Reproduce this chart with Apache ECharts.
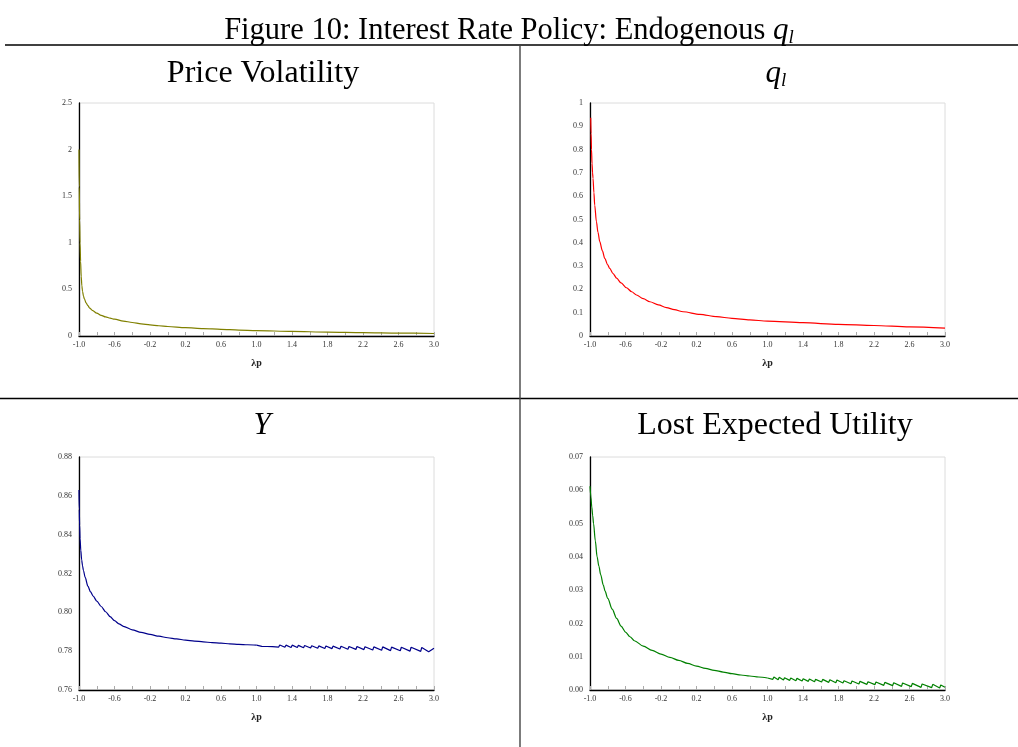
<!DOCTYPE html>
<html>
<head>
<meta charset="utf-8">
<script src="https://cdn.jsdelivr.net/npm/echarts@6/dist/echarts.min.js"></script>
<style>
html,body{margin:0;padding:0;background:#fff;}
#c{width:1018px;height:747px;}
</style>
</head>
<body>
<div id="c"></div>
<script>
// ---- data ----
const pvX = [-1.0, -0.997, -0.993, -0.988, -0.982, -0.975, -0.968, -0.96, -0.95, -0.94, -0.92, -0.9, -0.88, -0.85, -0.8, -0.75, -0.7, -0.65, -0.6, -0.5, -0.4, -0.3, -0.2, -0.1, 0.0, 0.2, 0.4, 0.6, 0.8, 1.0, 1.4, 1.8, 2.2, 2.6, 3.0];
const pvY = [2.0, 1.6, 1.25, 1.0, 0.80, 0.64, 0.54, 0.48, 0.43, 0.40, 0.355, 0.325, 0.30, 0.275, 0.245, 0.222, 0.205, 0.191, 0.18, 0.16, 0.145, 0.13, 0.12, 0.11, 0.102, 0.09, 0.08, 0.072, 0.064, 0.058, 0.049, 0.042, 0.036, 0.031, 0.027];

const qX = [-0.992, -0.988, -0.983, -0.977, -0.971, -0.966, -0.956, -0.947, -0.928, -0.91, -0.89, -0.86, -0.834, -0.80, -0.778, -0.74, -0.70, -0.65, -0.589, -0.53, -0.476, -0.40, -0.326, -0.23, -0.138, -0.05, 0.05, 0.238, 0.427, 0.60, 0.80, 1.0, 1.4, 1.8, 2.2, 2.6, 3.0];
const qY = [0.937, 0.87, 0.80, 0.74, 0.70, 0.677, 0.615, 0.562, 0.491, 0.445, 0.405, 0.365, 0.333, 0.305, 0.290, 0.268, 0.248, 0.228, 0.207, 0.19, 0.176, 0.160, 0.147, 0.134, 0.122, 0.113, 0.104, 0.093, 0.083, 0.076, 0.069, 0.064, 0.057, 0.050, 0.045, 0.039, 0.034];

const yX = [-1.0, -0.997, -0.993, -0.988, -0.98, -0.97, -0.96, -0.95, -0.93, -0.9, -0.87, -0.84, -0.8, -0.75, -0.7, -0.65, -0.6, -0.55, -0.5, -0.4, -0.3, -0.2, -0.1, 0.0, 0.1, 0.2, 0.3, 0.4, 0.5, 0.6, 0.7, 0.8, 0.9, 1.0,
  1.06, 1.072, 1.12, 1.132, 1.18, 1.192, 1.25, 1.262, 1.32, 1.332, 1.39, 1.402, 1.46, 1.472, 1.53, 1.542, 1.61, 1.622, 1.69, 1.702, 1.77, 1.782, 1.85, 1.862, 1.94, 1.952, 2.03, 2.042, 2.12, 2.132, 2.21, 2.222, 2.31, 2.322, 2.41, 2.422, 2.51, 2.522, 2.62, 2.632, 2.73, 2.742, 2.85, 2.862, 2.94, 3.0];
const yY = [0.863, 0.853, 0.845, 0.838, 0.832, 0.827, 0.824, 0.8215, 0.818, 0.8135, 0.8105, 0.8083, 0.8058, 0.8030, 0.8003, 0.7978, 0.7957, 0.7941, 0.7928, 0.7910, 0.7897, 0.7886, 0.7877, 0.7869, 0.7863, 0.7857, 0.7852, 0.7848, 0.7844, 0.7841, 0.7838, 0.7835, 0.7833, 0.7831,
  0.7825, 0.7835, 0.7824, 0.7834, 0.7823, 0.7833, 0.7821, 0.7832, 0.7820, 0.7831, 0.7819, 0.7831, 0.7819, 0.7830, 0.7818, 0.7829, 0.7816, 0.7828, 0.7815, 0.7827, 0.7814, 0.7827, 0.7813, 0.7826, 0.7811, 0.7825, 0.7810, 0.7824, 0.7809, 0.7824, 0.7808, 0.7823, 0.7806, 0.7822, 0.7805, 0.7822, 0.7803, 0.7821, 0.7802, 0.7820, 0.7800, 0.7820, 0.7799, 0.7819, 0.7797, 0.7815];

const leuX = [-1.0, -0.99, -0.98, -0.97, -0.96, -0.94, -0.92, -0.9, -0.88, -0.85, -0.83, -0.8, -0.75, -0.7, -0.65, -0.6, -0.55, -0.5, -0.4, -0.3, -0.2, -0.1, 0.0, 0.1, 0.2, 0.3, 0.4, 0.5, 0.6, 0.7, 0.8, 0.9, 1.0,
  1.06, 1.072, 1.12, 1.132, 1.18, 1.192, 1.25, 1.262, 1.32, 1.332, 1.39, 1.402, 1.46, 1.472, 1.53, 1.542, 1.61, 1.622, 1.69, 1.702, 1.77, 1.782, 1.85, 1.862, 1.94, 1.952, 2.03, 2.042, 2.12, 2.132, 2.21, 2.222, 2.31, 2.322, 2.41, 2.422, 2.51, 2.522, 2.62, 2.632, 2.73, 2.742, 2.85, 2.862, 2.94, 2.952, 3.0];
const leuY = [0.0612, 0.0580, 0.0550, 0.0525, 0.0500, 0.0448, 0.0400, 0.0372, 0.0347, 0.0315, 0.0297, 0.0275, 0.0243, 0.0215, 0.0192, 0.0174, 0.0160, 0.0148, 0.0132, 0.0119, 0.0108, 0.0098, 0.0089, 0.0080, 0.0072, 0.0065, 0.0059, 0.0054, 0.0049, 0.0045, 0.0042, 0.0039, 0.0036,
  0.0032, 0.0039, 0.0031, 0.0038, 0.0030, 0.0037, 0.0029, 0.0036, 0.0028, 0.0035, 0.0027, 0.0034, 0.0026, 0.0033, 0.0025, 0.0032, 0.0024, 0.0032, 0.0023, 0.0031, 0.0022, 0.0030, 0.0021, 0.0028, 0.0019, 0.0027, 0.0018, 0.0026, 0.0017, 0.0025, 0.0016, 0.0024, 0.0014, 0.0023, 0.0013, 0.0022, 0.0011, 0.0021, 0.0010, 0.0020, 0.0008, 0.0018, 0.0007, 0.0017, 0.0006, 0.0015, 0.0008];

const panelTitles = ['Price Volatility', '{i|q}{s|l}', '{i|Y}', 'Lost Expected Utility'];
const figTitle = 'Figure 10: Interest Rate Policy: Endogenous {i|q}{s|l}';
const xName = 'λp';

// ---- chart ----
const SERIF = '"Liberation Serif","Times New Roman",serif';
const zip = (a, b) => a.map((v, i) => [v, b[i]]);

const grids = [
  {left: 79, top: 103, width: 355, height: 233},
  {left: 590, top: 103, width: 355, height: 233},
  {left: 79, top: 457, width: 355, height: 233},
  {left: 590, top: 457, width: 355, height: 233}
].map(g => Object.assign(g, {show: true, borderColor: '#dcdcdc', borderWidth: 1, backgroundColor: 'transparent'}));

const yCfg = [
  {min: 0, max: 2.5, interval: 0.5, fmt: v => String(v)},
  {min: 0, max: 1, interval: 0.1, fmt: v => String(+v.toFixed(1))},
  {min: 0.76, max: 0.88, interval: 0.02, fmt: v => v.toFixed(2)},
  {min: 0, max: 0.07, interval: 0.01, fmt: v => v.toFixed(2)}
];

const xAxes = grids.map((g, i) => ({
  type: 'value', gridIndex: i, min: -1, max: 3, interval: 0.4,
  name: xName, nameLocation: 'middle', nameGap: 22,
  nameTextStyle: {fontFamily: SERIF, fontSize: 10, fontWeight: 'bold', color: '#222'},
  axisLine: {show: true, onZero: false, lineStyle: {color: '#000', width: 1.3}},
  axisTick: {show: true, inside: true, length: 4, lineStyle: {color: '#aaa'}},
  minorTick: {show: true, splitNumber: 2, length: 4, lineStyle: {color: '#aaa'}},
  splitLine: {show: false},
  axisLabel: {fontFamily: SERIF, fontSize: 8, color: '#333', margin: 5, formatter: v => v.toFixed(1)}
}));

const yAxes = yCfg.map((c, i) => ({
  type: 'value', gridIndex: i, min: c.min, max: c.max, interval: c.interval,
  axisLine: {show: true, onZero: false, lineStyle: {color: '#000', width: 1.3}},
  axisTick: {show: false},
  splitLine: {show: false},
  axisLabel: {fontFamily: SERIF, fontSize: 8, color: '#333', margin: 7, formatter: c.fmt}
}));

const colors = ['#808000', '#ff0000', '#00008b', '#008000'];
const datasets = [zip(pvX, pvY), zip(qX, qY), zip(yX, yY), zip(leuX, leuY)];
const series = [];
datasets.forEach((d, i) => {
  const base = {type: 'line', xAxisIndex: i, yAxisIndex: i, showSymbol: false, animation: false,
    lineStyle: {color: colors[i], width: 1.2}};
  if (i < 2) {
    series.push(Object.assign({}, base, {data: d, smooth: 0.3, smoothMonotone: 'x'}));
  } else {
    // smooth head up to x = 1.0, raw sawtooth tail after it
    const head = d.filter(p => p[0] <= 1.0);
    const tail = d.filter(p => p[0] >= 1.0);
    series.push(Object.assign({}, base, {data: head, smooth: 0.3, smoothMonotone: 'x'}));
    series.push(Object.assign({}, base, {data: tail, smooth: false}));
  }
});

const rich = {
  i: {fontFamily: SERIF, fontStyle: 'italic', fontSize: 31, lineHeight: 32, fill: '#000'},
  s: {fontFamily: SERIF, fontStyle: 'italic', fontSize: 19, lineHeight: 15, verticalAlign: 'bottom', fill: '#000'}
};
const titleText = (txt, x, y, size) => ({
  type: 'text', x: x, y: y, silent: true,
  style: {text: txt, fontFamily: SERIF, fontSize: size, fill: '#000', align: 'center', verticalAlign: 'middle', rich: rich}
});
const rule = (x1, y1, x2, y2, c) => ({type: 'line', silent: true, shape: {x1, y1, x2, y2}, style: {stroke: c, lineWidth: 1.4}});

const graphic = [
  titleText(figTitle, 509, 31, 30.5),
  titleText(panelTitles[0], 263, 74, 32),
  titleText(panelTitles[1], 776, 74, 32),
  titleText(panelTitles[2], 262, 426, 32),
  titleText(panelTitles[3], 775, 426, 32),
  rule(5, 45, 1018, 45, '#000'),
  rule(0, 398.5, 1018, 398.5, '#000'),
  rule(520, 45, 520, 747, '#444')
];

const chart = echarts.init(document.getElementById('c'), null, {renderer: 'canvas'});
chart.setOption({
  animation: false,
  backgroundColor: '#fff',
  grid: grids, xAxis: xAxes, yAxis: yAxes, series: series, graphic: graphic
});
</script>
</body>
</html>
